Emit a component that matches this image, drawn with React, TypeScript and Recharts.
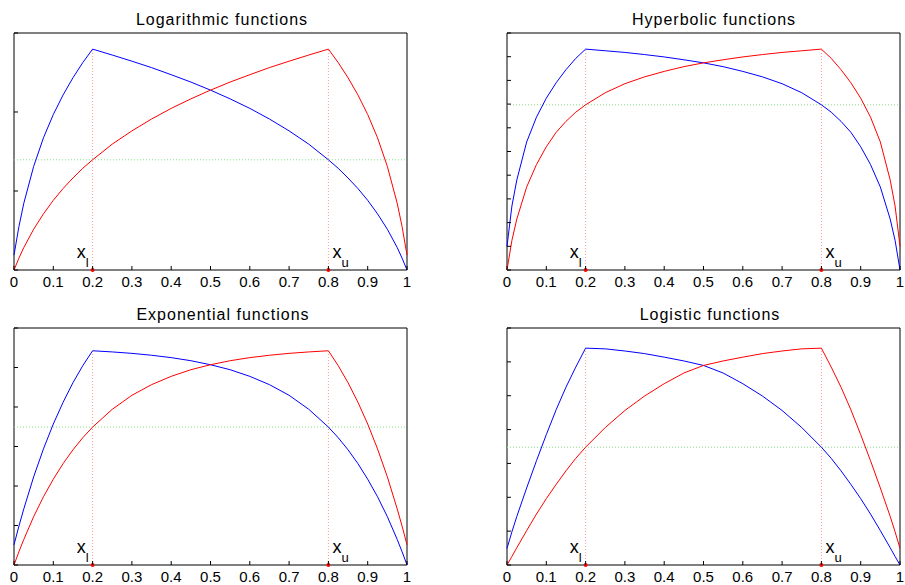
import {
  LineChart,
  Line,
  XAxis,
  YAxis,
  ReferenceArea,
  ReferenceLine,
  ReferenceDot,
} from 'recharts'

// shared x grid (denser near the kinks and the ends)
const xs = [
  0, 0.0125, 0.025, 0.05, 0.075, 0.1, 0.125, 0.15, 0.175, 0.2,
  0.25, 0.3, 0.35, 0.4, 0.45, 0.5, 0.55, 0.6, 0.65, 0.7, 0.75,
  0.8, 0.825, 0.85, 0.875, 0.9, 0.925, 0.95, 0.975, 0.9875, 1,
]

const xTicks = [0, 0.1, 0.2, 0.3, 0.4, 0.5, 0.6, 0.7, 0.8, 0.9, 1]
const xTickLabels = ['0', '0.1', '0.2', '0.3', '0.4', '0.5', '0.6', '0.7', '0.8', '0.9', '1']

const xLower = 0.2
const xUpper = 0.8

// Logarithmic
const logBlue = [
  0.063, 0.183, 0.282, 0.437, 0.558, 0.656, 0.739, 0.811, 0.875, 0.932,
  0.907, 0.881, 0.854, 0.824, 0.793, 0.759, 0.722, 0.682, 0.637, 0.587, 0.531,
  0.465, 0.429, 0.388, 0.344, 0.294, 0.237, 0.172, 0.095, 0.05, 0,
]
const logRed = [
  0, 0.05, 0.095, 0.172, 0.237, 0.294, 0.344, 0.388, 0.429, 0.465,
  0.531, 0.587, 0.637, 0.682, 0.722, 0.759, 0.793, 0.824, 0.854, 0.881, 0.907,
  0.932, 0.875, 0.811, 0.739, 0.656, 0.558, 0.437, 0.282, 0.183, 0.063,
]
const logYTicks = [0, 0.3333, 0.6667, 1]

// Hyperbolic
const hypBlue = [
  0.1, 0.27, 0.38, 0.54, 0.645, 0.725, 0.79, 0.845, 0.893, 0.932,
  0.925, 0.918, 0.909, 0.899, 0.887, 0.874, 0.858, 0.838, 0.815, 0.786, 0.748,
  0.697, 0.666, 0.627, 0.581, 0.52, 0.445, 0.35, 0.215, 0.125, 0,
]
const hypRed = [
  0, 0.125, 0.215, 0.35, 0.445, 0.52, 0.581, 0.627, 0.666, 0.697,
  0.748, 0.786, 0.815, 0.838, 0.858, 0.874, 0.887, 0.899, 0.909, 0.918, 0.925,
  0.932, 0.893, 0.845, 0.79, 0.725, 0.645, 0.54, 0.38, 0.27, 0.1,
]
const hypYTicks = [0, 0.1, 0.2, 0.3, 0.4, 0.5, 0.6, 0.7, 0.8, 0.9, 1]

// Exponential
const expBlue = [
  0.085, 0.164, 0.237, 0.372, 0.49, 0.595, 0.687, 0.769, 0.841, 0.904,
  0.899, 0.893, 0.885, 0.875, 0.862, 0.845, 0.824, 0.796, 0.761, 0.716, 0.657,
  0.582, 0.537, 0.486, 0.428, 0.362, 0.288, 0.204, 0.108, 0.056, 0,
]
const expRed = [
  0, 0.056, 0.108, 0.204, 0.288, 0.362, 0.428, 0.486, 0.537, 0.582,
  0.657, 0.716, 0.761, 0.796, 0.824, 0.845, 0.862, 0.875, 0.885, 0.893, 0.899,
  0.904, 0.841, 0.769, 0.687, 0.595, 0.49, 0.372, 0.237, 0.164, 0.085,
]
const expYTicks = [0, 0.1667, 0.3333, 0.5, 0.6667, 0.8333, 1]

// Logistic
const logiBlue = [
  0.07, 0.14, 0.205, 0.325, 0.44, 0.55, 0.655, 0.75, 0.835, 0.915,
  0.912, 0.903, 0.892, 0.877, 0.861, 0.842, 0.81, 0.765, 0.713, 0.652, 0.58,
  0.497, 0.45, 0.397, 0.34, 0.28, 0.215, 0.145, 0.073, 0.036, 0,
]
const logiRed = [
  0, 0.036, 0.073, 0.145, 0.215, 0.28, 0.34, 0.397, 0.45, 0.497,
  0.58, 0.652, 0.713, 0.765, 0.81, 0.842, 0.861, 0.877, 0.892, 0.903, 0.912,
  0.915, 0.835, 0.75, 0.655, 0.55, 0.44, 0.325, 0.205, 0.14, 0.07,
]
const logiYTicks = [0, 0.1429, 0.2857, 0.4286, 0.5714, 0.7143, 0.8571, 1]

const panels = [
  { title: 'Logarithmic functions', blue: logBlue, red: logRed, yTicks: logYTicks, peak: 0.932, level: 0.465, left: 0, top: 0, titleX: 222 },
  { title: 'Hyperbolic functions', blue: hypBlue, red: hypRed, yTicks: hypYTicks, peak: 0.932, level: 0.697, left: 493, top: 0, titleX: 714 },
  { title: 'Exponential functions', blue: expBlue, red: expRed, yTicks: expYTicks, peak: 0.904, level: 0.582, left: 0, top: 295, titleX: 223 },
  { title: 'Logistic functions', blue: logiBlue, red: logiRed, yTicks: logiYTicks, peak: 0.915, level: 0.497, left: 493, top: 295, titleX: 710 },
]

const FONT = '"Liberation Sans", Arial, Helvetica, sans-serif'

const XTick = (props: any) => {
  const { x, y, payload, index } = props
  return (
    <g>
      <line x1={x} x2={x} y1={y} y2={y - 4} stroke="#000" />
      <text x={x} y={y + 17} textAnchor="middle" fontSize={15} fill="#000">
        {xTickLabels[index] ?? String(payload.value)}
      </text>
    </g>
  )
}

const LeftTick = (props: any) => {
  const { x, y } = props
  return <line x1={x} x2={x + 4} y1={y} y2={y} stroke="#000" />
}

const RightTick = (props: any) => {
  const { x, y } = props
  return <line x1={x} x2={x - 4} y1={y} y2={y} stroke="#000" />
}

const boundLabel = (sub: string, side: 'left' | 'right') => (props: any) => {
  const { cx, cy } = props
  return (
    <g>
      <circle cx={cx} cy={cy} r={2} fill="#ff0000" />
      <text
        x={side === 'left' ? cx - 4 : cx + 4}
        y={cy - 12}
        textAnchor={side === 'left' ? 'end' : 'start'}
        fontSize={18}
        fill="#000"
      >
        x
        <tspan fontSize={13} dy={9}>{sub}</tspan>
      </text>
    </g>
  )
}

function Panel({ p }: { p: (typeof panels)[number] }) {
  const data = xs.map((x, i) => ({ x, blue: p.blue[i], red: p.red[i] }))
  return (
    <div style={{ position: 'absolute', left: p.left, top: p.top }}>
      <LineChart width={412} height={290} data={data} margin={{ top: 33, right: 0, bottom: 0, left: 0 }}>
        <XAxis
          dataKey="x"
          type="number"
          domain={[0, 1]}
          ticks={xTicks}
          interval={0}
          height={20}
          tickSize={0}
          tickMargin={0}
          axisLine={false}
          tickLine={false}
          tick={XTick}
        />
        <YAxis type="number" domain={[0, 1]} ticks={p.yTicks} interval={0} width={14} tickSize={0} tickMargin={0} axisLine={false} tickLine={false} tick={LeftTick} />
        <YAxis yAxisId="r" orientation="right" type="number" domain={[0, 1]} ticks={p.yTicks} interval={0} width={5} tickSize={0} tickMargin={0} axisLine={false} tickLine={false} tick={RightTick} />
        <ReferenceLine y={p.level} stroke="#88e088" strokeDasharray="1 2" />
        <ReferenceLine segment={[{ x: xLower, y: 0 }, { x: xLower, y: p.peak }]} stroke="#ff9a9a" strokeDasharray="1 2" />
        <ReferenceLine segment={[{ x: xUpper, y: 0 }, { x: xUpper, y: p.peak }]} stroke="#ff9a9a" strokeDasharray="1 2" />
        <Line type="linear" dataKey="blue" stroke="#0000ff" strokeWidth={1} dot={false} isAnimationActive={false} />
        <Line type="linear" dataKey="red" stroke="#ff0000" strokeWidth={1} dot={false} isAnimationActive={false} />
        <ReferenceArea x1={0} x2={1} y1={0} y2={1} fill="none" stroke="#000" strokeWidth={1} ifOverflow="visible" />
        <ReferenceDot x={xLower} y={0} r={2} ifOverflow="visible" shape={boundLabel('l', 'left')} />
        <ReferenceDot x={xUpper} y={0} r={2} ifOverflow="visible" shape={boundLabel('u', 'right')} />
      </LineChart>
    </div>
  )
}

export default function App() {
  return (
    <div
      style={{
        position: 'absolute',
        left: 0,
        top: 0,
        width: 905,
        height: 585,
        overflow: 'hidden',
        background: '#fff',
        fontFamily: FONT,
      }}
    >
      {panels.map(p => (
        <div key={p.title}>
          <div
            style={{
              position: 'absolute',
              left: p.titleX - 150,
              top: p.top + 12,
              width: 300,
              textAlign: 'center',
              fontSize: 16,
              lineHeight: '16px',
              letterSpacing: 1,
              color: '#000',
            }}
          >
            {p.title}
          </div>
          <Panel p={p} />
        </div>
      ))}
    </div>
  )
}
